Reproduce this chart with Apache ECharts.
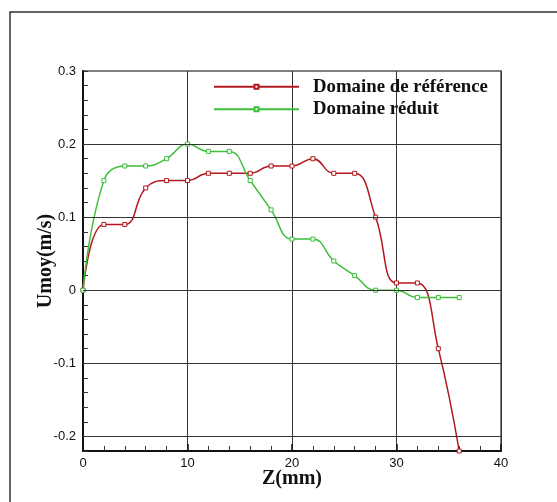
<!DOCTYPE html>
<html>
<head>
<meta charset="utf-8">
<script src="https://cdn.jsdelivr.net/npm/echarts@6/dist/echarts.min.js"></script>
<style>
  html, body { margin: 0; padding: 0; background: #fff; }
  #chart { width: 557px; height: 502px; }
</style>
</head>
<body>
<div id="chart"></div>
<script>
// Axial positions (mm)
const zValues = [0, 2, 4, 6, 8, 10, 12, 14, 16, 18, 20, 22, 24, 26, 28, 30, 32, 34, 36];
// Mean velocity, reference domain (m/s)
const refValues = [0, 0.09, 0.09, 0.14, 0.15, 0.15, 0.16, 0.16, 0.16, 0.17, 0.17, 0.18, 0.16, 0.16, 0.10, 0.01, 0.01, -0.08, -0.22];
// Mean velocity, reduced domain (m/s)
const redValues = [0, 0.15, 0.17, 0.17, 0.18, 0.20, 0.19, 0.19, 0.15, 0.11, 0.07, 0.07, 0.04, 0.02, 0, 0, -0.01, -0.01, -0.01];
// Major y values that carry a label and a grid line
const yMajor = [-0.2, -0.1, 0, 0.1, 0.2, 0.3];
const seriesNames = ['Domaine de référence', 'Domaine réduit'];

const RED = '#b3191c';
const GREEN = '#3dbf3a';
const tickFont = 'Liberation Sans, Arial, sans-serif';
const titleFont = 'Liberation Serif, Times New Roman, serif';

function pairs(ys) { return zValues.map((z, i) => [z, ys[i]]); }

function curve(name, ys, color) {
  return {
    name: name,
    type: 'line',
    data: pairs(ys),
    smooth: 0.45,
    symbol: 'rect',
    symbolSize: 4,
    showAllSymbol: true,
    z: 3,
    lineStyle: { color: color, width: 1.5 },
    itemStyle: { color: '#fff', borderColor: color, borderWidth: 1 }
  };
}

const chart = echarts.init(document.getElementById('chart'), null, { renderer: 'canvas' });
chart.setOption({
  animation: false,
  backgroundColor: '#fff',
  graphic: [{
    type: 'rect',
    shape: { x: 10, y: 12, width: 600, height: 600 },
    style: { fill: 'none', stroke: '#333', lineWidth: 1.5 },
    silent: true,
    z: -1
  }],
  grid: {
    left: 83, top: 71, right: 56, bottom: 51,
    show: true, borderColor: '#555', borderWidth: 1.5, backgroundColor: 'transparent'
  },
  legend: {
    data: seriesNames,
    orient: 'vertical',
    left: 208, top: 71.7,
    itemWidth: 85, itemHeight: 5, itemGap: 2.6,
    textStyle: {
      fontFamily: titleFont, fontWeight: 'bold', fontSize: 18.8, color: '#111',
      lineHeight: 20, padding: [0, 0, 0, 9]
    }
  },
  xAxis: {
    type: 'value', min: 0, max: 40, interval: 10,
    name: 'Z(mm)', nameLocation: 'middle', nameGap: 18, nameMoveOverlap: false,
    nameTextStyle: { fontFamily: titleFont, fontWeight: 'bold', fontSize: 20, color: '#111', verticalAlign: 'top' },
    axisLine: { onZero: false, lineStyle: { color: '#111', width: 2 } },
    axisTick: { inside: true, length: 7, lineStyle: { color: '#111', width: 1.5 } },
    minorTick: { show: true, splitNumber: 5, length: 5, lineStyle: { color: '#333', width: 1 } },
    axisLabel: { margin: 6, fontFamily: tickFont, fontSize: 13, color: '#111' },
    splitLine: { show: true, lineStyle: { color: '#333', width: 1 } }
  },
  yAxis: {
    type: 'value', min: -0.22, max: 0.3, interval: 0.02,
    name: 'Umoy(m/s)', nameLocation: 'middle', nameGap: 27, nameRotate: 90, nameMoveOverlap: false,
    nameTextStyle: { fontFamily: titleFont, fontWeight: 'bold', fontSize: 20, color: '#111' },
    axisLine: { onZero: false, lineStyle: { color: '#111', width: 2 } },
    axisTick: { inside: true, length: 5, lineStyle: { color: '#333', width: 1 } },
    axisLabel: {
      margin: 7, fontFamily: tickFont, fontSize: 13, color: '#111',
      formatter: function (v) {
        const hit = yMajor.find(m => Math.abs(m - v) < 1e-6);
        return hit === undefined ? '' : String(hit);
      }
    },
    splitLine: { show: false }
  },
  series: [
    {
      name: 'grid',
      type: 'line',
      data: [],
      z: 1,
      silent: true,
      markLine: {
        silent: true,
        symbol: 'none',
        label: { show: false },
        lineStyle: { color: '#333', width: 1, type: 'solid' },
        data: yMajor.filter(v => v < 0.3).map(v => ({ yAxis: v }))
      }
    },
    curve(seriesNames[0], refValues, RED),
    curve(seriesNames[1], redValues, GREEN)
  ]
});
</script>
</body>
</html>
